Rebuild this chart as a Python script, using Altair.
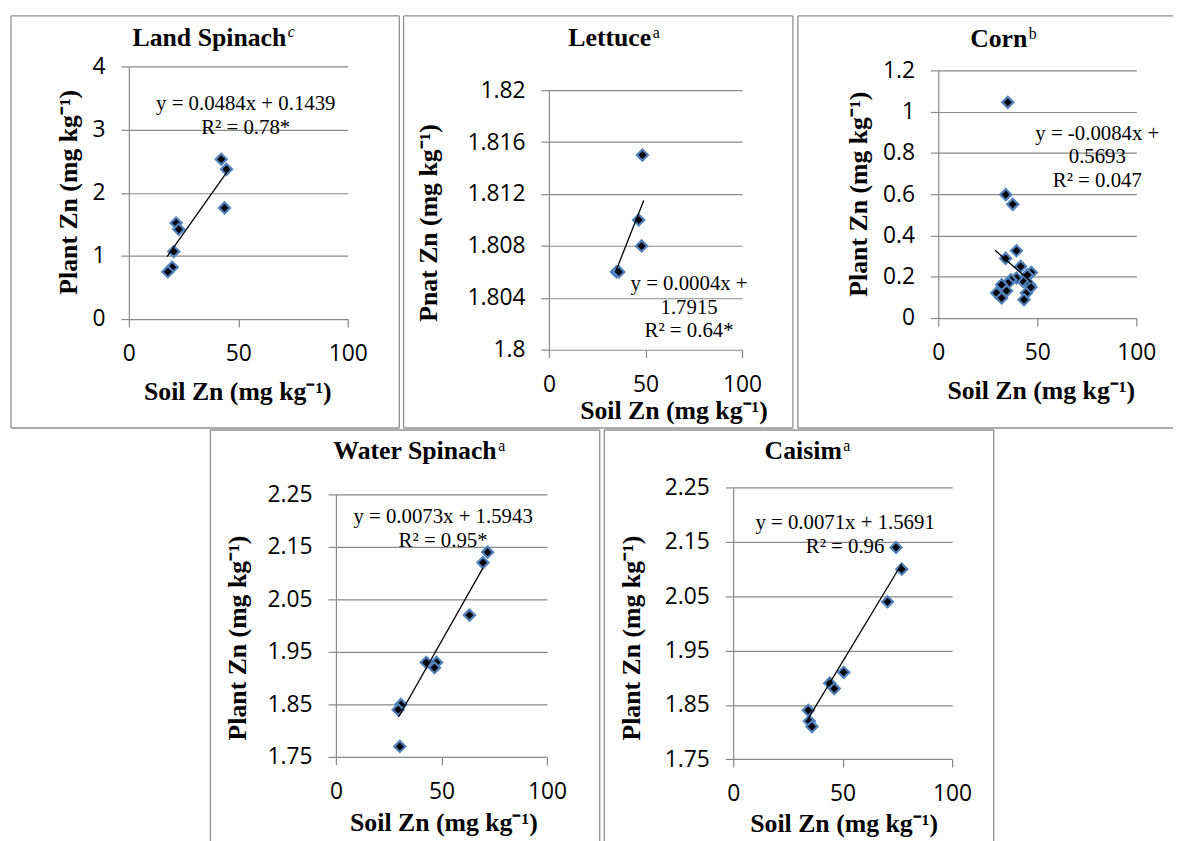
import altair as alt
import pandas as pd

# ---------------- data ----------------
x_ticks = [0, 50, 100]

# Land Spinach
ls_soil = [42.2, 44.6, 43.7, 21.6, 22.8, 20.5, 19.8, 17.8]
ls_plant = [2.53, 2.37, 1.76, 1.52, 1.42, 1.07, 0.82, 0.75]
ls_trend_soil = [17.5, 44.6]
ls_trend_plant = [0.99, 2.32]
ls_yticks = [0, 1, 2, 3, 4]
ls_eq = "y = 0.0484x + 0.1439\nR\u00b2 = 0.78*"

# Lettuce
le_soil = [48.4, 46.5, 48.0, 35.0, 36.2]
le_plant = [1.815, 1.810, 1.808, 1.806, 1.806]
le_trend_soil = [34.5, 49.1]
le_trend_plant = [1.8060, 1.8115]
le_yticks = [1.8, 1.804, 1.808, 1.812, 1.816, 1.82]
le_eq = "y = 0.0004x +\n1.7915\nR\u00b2 = 0.64*"

# Corn
co_soil = [35.1, 34.1, 37.6, 39.5, 34.0, 41.6, 47.0, 45.0, 42.8, 39.5,
           36.7, 35.3, 46.2, 44.5, 43.3, 32.0, 29.5, 34.5, 32.0, 46.8]
co_plant = [1.045, 0.598, 0.551, 0.326, 0.289, 0.250, 0.221, 0.209, 0.178, 0.194,
            0.185, 0.170, 0.161, 0.121, 0.089, 0.161, 0.121, 0.132, 0.097, 0.149]
co_trend_soil = [28.7, 47.2]
co_trend_plant = [0.328, 0.173]
co_yticks = [0, 0.2, 0.4, 0.6, 0.8, 1, 1.2]
co_eq = "y = -0.0084x +\n0.5693\nR\u00b2 = 0.047"

# Water Spinach
ws_soil = [71.9, 69.7, 63.3, 42.8, 47.7, 46.7, 30.8, 29.5, 30.3]
ws_plant = [2.14, 2.12, 2.02, 1.93, 1.93, 1.92, 1.85, 1.84, 1.77]
ws_trend_soil = [29.7, 69.7]
ws_trend_plant = [1.826, 2.110]
ws_yticks = [1.75, 1.85, 1.95, 2.05, 2.15, 2.25]
ws_eq = "y = 0.0073x + 1.5943\nR\u00b2 = 0.95*"

# Caisim
ca_soil = [74.4, 77.0, 70.5, 50.5, 44.1, 46.2, 34.3, 34.8, 36.0]
ca_plant = [2.14, 2.10, 2.04, 1.91, 1.89, 1.88, 1.84, 1.82, 1.81]
ca_trend_soil = [34.0, 77.0]
ca_trend_plant = [1.823, 2.110]
ca_yticks = [1.75, 1.85, 1.95, 2.05, 2.15, 2.25]
ca_eq = "y = 0.0071x + 1.5691\nR\u00b2 = 0.96"

X_TITLE = "Soil Zn (mg kg\u207b\u00b9)"
Y_TITLE = "Plant Zn (mg kg\u207b\u00b9)"
Y_TITLE_LETTUCE = "Pnat Zn (mg kg\u207b\u00b9)"

# ---------------- styling ----------------
GRID = "#8a8a8a"
FRAME = "#8f8f8f"
MARK_STROKE = "#4F81BD"
SERIF = "Liberation Serif"
SANS = "Open Sans"
LABELS = "format(datum.value, '~g')"
GAP = 3  # gap between neighbouring panel frames

dummy = pd.DataFrame({"k": [0]})


def txt(text, x, y, size, weight="normal", style="normal", align="center",
        baseline="alphabetic", angle=0, lh=None):
    kw = dict(text=text, font=SERIF, fontSize=size, fontWeight=weight,
              fontStyle=style, align=align, baseline=baseline, color="black")
    if angle:
        kw["angle"] = angle
    if lh:
        kw["lineHeight"] = lh
        kw["lineBreak"] = "\n"
    return alt.Chart(dummy).mark_text(**kw).encode(x=alt.value(x), y=alt.value(y))


def hrule(x1, x2, y):
    return alt.Chart(dummy).mark_rule(color=FRAME, strokeWidth=1.3).encode(
        x=alt.value(x1), x2=alt.value(x2), y=alt.value(y))


def vrule(x, y1, y2, opacity=1):
    return alt.Chart(dummy).mark_rule(color=FRAME, strokeWidth=1.3,
                                      opacity=opacity).encode(
        x=alt.value(x), y=alt.value(y1), y2=alt.value(y2))


def panel(soil, plant, tsoil, tplant, yticks, w, h, t, title, sup, sup_style,
          title_x, title_y, sup_y, ytitle, ytx, yty, xtx, xty, eq, eqx, eqy, eqlh,
          fx1, fx2, fy2, sides, gap_after=0):
    """t = distance from the panel frame's top edge down to the plot area's top.
    The cell origin is placed at the frame top so that frames line up in a row."""
    pts = pd.DataFrame({"soil": soil, "plant": plant})
    trend = pd.DataFrame({"soil": tsoil, "plant": tplant})
    xs = alt.Scale(domain=[0, 100], nice=False, zero=False)
    ys = alt.Scale(domain=[yticks[0], yticks[-1]], nice=False, zero=False,
                   range=[t + h, t])
    xax = alt.Axis(values=x_ticks, grid=False, domain=False, title=None,
                   tickSize=8, labelPadding=16, labelExpr=LABELS, labelFlush=False)
    yax = alt.Axis(values=yticks, grid=True, domain=True, title=None,
                   tickSize=8, labelPadding=16, labelExpr=LABELS, labelFlush=False)
    points = alt.Chart(pts).mark_point(
        shape="diamond", filled=True, color="black", fill="black",
        stroke=MARK_STROKE, strokeWidth=2.2, size=125, opacity=1
    ).encode(x=alt.X("soil:Q", scale=xs, axis=xax),
             y=alt.Y("plant:Q", scale=ys, axis=yax))
    line = alt.Chart(trend).mark_line(color="black", strokeWidth=1.3).encode(
        x=alt.X("soil:Q", scale=xs, axis=xax),
        y=alt.Y("plant:Q", scale=ys, axis=yax))
    layers = [points, line,
              txt(title, title_x, title_y + t, 26, weight="bold", align="right"),
              txt(sup, title_x + 1.5, sup_y + t, 16, style=sup_style, align="left"),
              txt(ytitle, ytx, yty + t, 26, weight="bold", baseline="middle", angle=270),
              txt(X_TITLE, xtx, xty + t, 26, weight="bold"),
              txt(eq, eqx, eqy + t, 21, lh=eqlh)]
    bottom = fy2 + t
    if "top" in sides:
        layers.append(hrule(fx1, fx2, 0))
    if "bottom" in sides:
        layers.append(hrule(fx1, fx2, bottom))
    if "left" in sides:
        layers.append(vrule(fx1, 0, bottom))
    if "right" in sides:
        layers.append(vrule(fx2, 0, bottom))
    if gap_after:
        # invisible edge that reserves the small gap before the next panel
        layers.append(vrule(fx2 + gap_after, 0, 10, opacity=0))
    return alt.layer(*layers).properties(width=w, height=t + h)


ALL = ("top", "bottom", "left", "right")

p1 = panel(ls_soil, ls_plant, ls_trend_soil, ls_trend_plant, ls_yticks, 221, 255, 51,
           "Land Spinach", "c", "italic", 159, -21, -30,
           Y_TITLE, -60, 127, 110, 337, ls_eq, 118, 44, 24,
           -119, 273, 365, ALL, GAP)

p2 = panel(le_soil, le_plant, le_trend_soil, le_trend_plant, le_yticks, 195, 262, 75,
           "Lettuce", "a", "normal", 103.3, -45, -53,
           Y_TITLE_LETTUCE, -121, 134, 126.3, 332, le_eq, 141.5, 202, 23.5,
           -146.7, 246.3, 341, ALL, GAP)

p3 = panel(co_soil, co_plant, co_trend_soil, co_trend_plant, co_yticks, 200, 250, 55,
           "Corn", "b", "normal", 90, -23.3, -32,
           Y_TITLE, -79.4, 125, 104, 331.4, co_eq, 160.6, 70, 24,
           -141.7, 237, 361, ("top", "bottom", "left"))

p4 = panel(ws_soil, ws_plant, ws_trend_soil, ws_trend_plant, ws_yticks, 213, 265, 65,
           "Water Spinach", "a", "normal", 162.3, -35.3, -43.3,
           Y_TITLE, -98.7, 145, 109, 339.5, ws_eq, 108.2, 29, 24.3,
           -126.7, 266.3, 354, ("top", "left", "right"), GAP)

p5 = panel(ca_soil, ca_plant, ca_trend_soil, ca_trend_plant, ca_yticks, 221, 274, 58.3,
           "Caisim", "a", "normal", 109.7, -28.6, -36.6,
           Y_TITLE, -102.5, 151.8, 112, 347.7, ca_eq, 113, 41.4, 24.3,
           -130, 263, 360.7, ("top", "left", "right"))

spacer = alt.Chart(dummy).mark_point(opacity=0).properties(width=81, height=40)

top = alt.hconcat(p1, p2, p3, spacing=0)
bottom = alt.hconcat(spacer, p4, p5, spacing=0)

chart = alt.vconcat(top, bottom, spacing=0).properties(
    padding={"left": 2, "top": 3, "right": 0, "bottom": 0}
).configure_view(stroke=None).configure_axis(
    labelFont=SANS, labelFontSize=23, labelColor="black",
    tickColor=GRID, gridColor=GRID, domainColor=GRID,
    tickWidth=1.2, gridWidth=1.2, domainWidth=1.2
)

chart.save("out.html", embed_options={"renderer": "svg", "actions": False})
